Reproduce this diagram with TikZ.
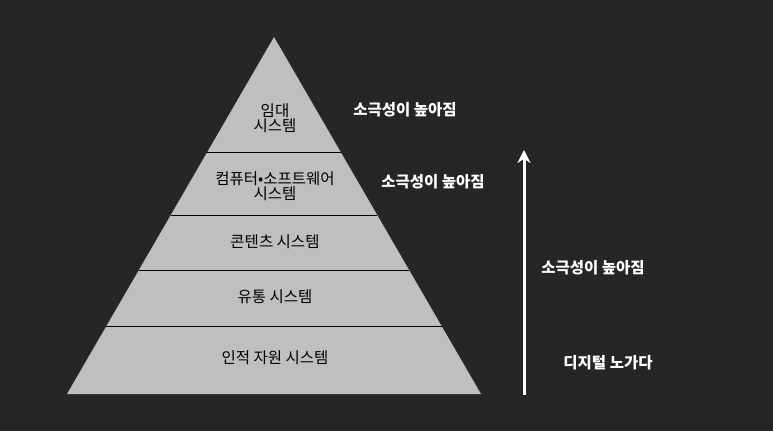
\documentclass[tikz,border=0pt]{standalone}
\usepackage{fontspec}
\setmainfont{Noto Sans CJK KR}
\usetikzlibrary{positioning, arrows.meta}
\definecolor{bgdark}{HTML}{262626}
\definecolor{pyrgrey}{HTML}{BFBFBF}
\tikzset{
  layertext/.style={font=\fontsize{15.5}{18}\selectfont, text=black, align=center},
  sidetext/.style={font=\fontsize{15.5}{18}\selectfont\bfseries, text=white, align=center},
}
\begin{document}
\begin{tikzpicture}[x=1pt, y=-1pt]
        \useasboundingbox[fill=bgdark] (0,0) rectangle (773,431);

        % Pyramide
        \coordinate (apex) at (274,37);
        \coordinate (bl) at (67,394);
        \coordinate (br) at (481,394);
        \fill[pyrgrey] (apex) -- (br) -- (bl) -- cycle;

        % Trennlinien
        \draw[black] (207,152) -- (341,152);
        \draw[black] (171,215) -- (377,215);
        \draw[black] (139,270) -- (409,270);
        \draw[black] (106,326) -- (442,326);

        % Schichten
        \node[layertext] (rent) at (275,118) {임대\\[-3pt]시스템};
        \node[layertext] (soft) at (275,186) {컴퓨터•소프트웨어\\[-3pt]시스템};
        \node[layertext] (cont) at (275,242) {콘텐츠 시스템};
        \node[layertext] (dist) at (275,297) {유통 시스템};
        \node[layertext] (human) at (275,358) {인적 자원 시스템};

        % Beschriftungen rechts
        \node[sidetext] (passA) at (405,110) {소극성이 높아짐};
        \node[sidetext] (passB) at (433,182) {소극성이 높아짐};
        \node[sidetext] (passC) at (593,268) {소극성이 높아짐};
        \node[sidetext] (labor) at (608,363) {디지털 노가다};

        % Pfeil
        \coordinate (arrlow) at (524,395);
        \coordinate (arrhigh) at (524,150);
        \draw[-{Stealth[length=13pt,width=13pt]}, white, line width=3pt] (arrlow) -- (arrhigh);
\end{tikzpicture}
\end{document}
